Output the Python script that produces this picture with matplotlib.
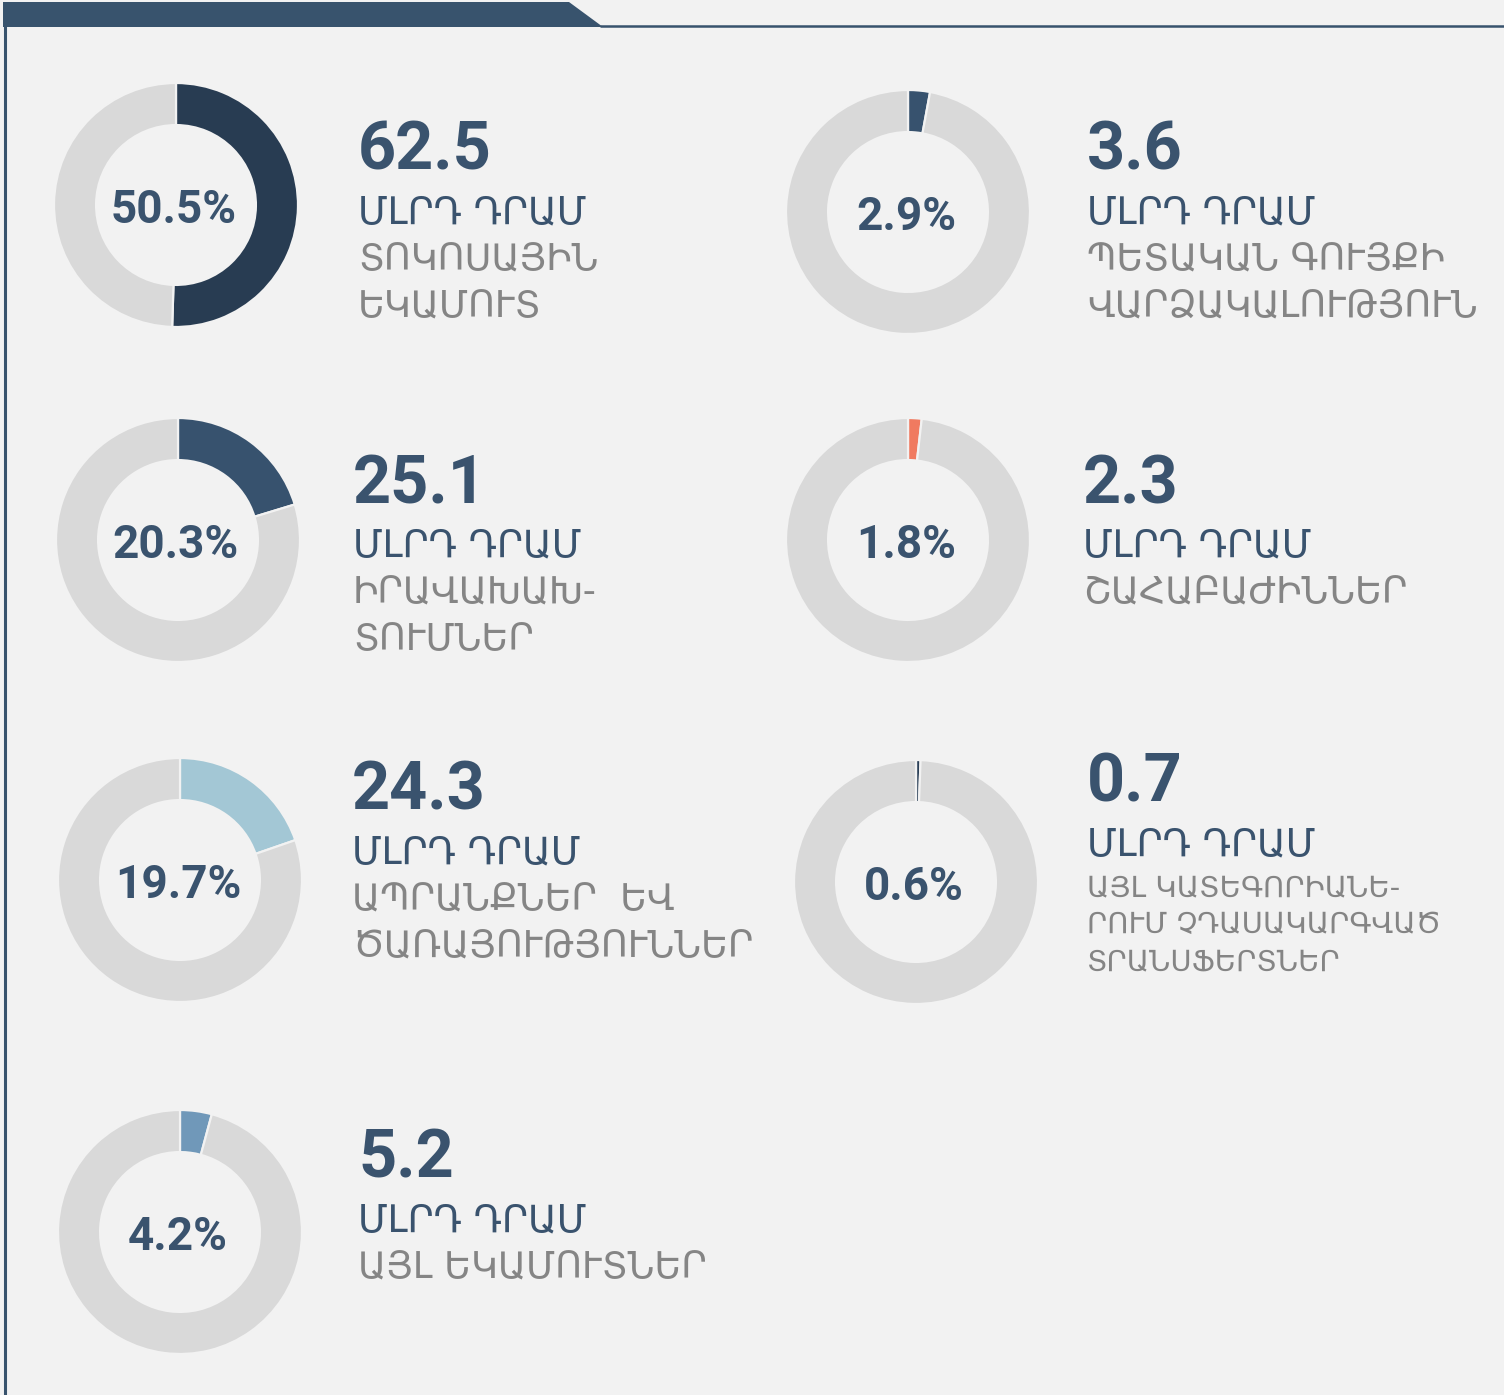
"""Budget revenue structure — donut panel, one ring per category."""
import matplotlib
matplotlib.use("Agg")
import matplotlib.pyplot as plt
from matplotlib.patches import Polygon

W, H = 1504, 1395
BG       = "#f2f2f2"
RING     = "#d9d9d9"
NAVY     = "#37526e"
TXT_BLUE = "#3a536e"
TXT_GRAY = "#858585"

# ── data ──────────────────────────────────────────────────────────────────────

shares  = [50.5, 2.9, 20.3, 1.8, 19.7, 0.6, 4.2]          # % of total
amounts = [62.5, 3.6, 25.1, 2.3, 24.3, 0.7, 5.2]          # bn AMD
unit    = "ՄԼՐԴ ԴՐԱՄ"
labels  = [
    ["ՏՈԿՈՍԱՅԻՆ", "ԵԿԱՄՈՒՏ"],
    ["ՊԵՏԱԿԱՆ ԳՈՒՅՔԻ", "ՎԱՐՁԱԿԱԼՈՒԹՅՈՒՆ"],
    ["ԻՐԱՎԱԽԱԽ-", "ՏՈՒՄՆԵՐ"],
    ["ՇԱՀԱԲԱԺԻՆՆԵՐ"],
    ["ԱՊՐԱՆՔՆԵՐ  ԵՎ", "ԾԱՌԱՅՈՒԹՅՈՒՆՆԵՐ"],
    ["ԱՅԼ ԿԱՏԵԳՈՐԻԱՆԵ-", "ՐՈՒՄ ՉԴԱՍԱԿԱՐԳՎԱԾ", "ՏՐԱՆՍՖԵՐՏՆԵՐ"],
    ["ԱՅԼ ԵԿԱՄՈՒՏՆԵՐ"],
]
colors  = ["#283c52", NAVY, NAVY, "#f07a60", "#a3c7d5", "#2b4058", "#7098b9"]

# ── layout (pixels, top-left origin) ──────────────────────────────────────────

centers = [(176, 205), (908, 212), (178, 540), (908, 540),
           (180, 880), (916, 882), (180, 1232)]
text_x  = [358, 1087, 353, 1083, 352, 1087, 358]
num_y   = [170, 170, 503, 503, 810, 802, 1178]    # baseline of the big number
R_OUT   = 122
HOLE    = 0.655

def fx(x):
    return x / W

def fy(y):
    return 1 - y / H

fig = plt.figure(figsize=(W / 100, H / 100), dpi=100)
fig.patch.set_facecolor(BG)

# frame: header tab, rule line, left border
frame = fig.add_axes([0, 0, 1, 1])
frame.set_xlim(0, W)
frame.set_ylim(H, 0)
frame.axis("off")
frame.add_patch(Polygon([(3, 2), (569, 2), (603, 27), (3, 27)],
                        closed=True, color="#38536d", lw=0))
frame.plot([600, W], [26, 26], color="#38536d", lw=1.8, solid_capstyle="butt")
frame.plot([4.5, 4.5], [26, H], color="#38536d", lw=2.2, solid_capstyle="butt")

# ── donuts + labels ───────────────────────────────────────────────────────────

pad = 1.04
for i, pct in enumerate(shares):
    cx, cy = centers[i]
    size = 2 * R_OUT * pad
    ax = fig.add_axes([fx(cx - size / 2), fy(cy + size / 2), size / W, size / H])
    ax.pie([pct, 100 - pct], colors=[colors[i], RING], startangle=90,
           counterclock=False, radius=1,
           wedgeprops=dict(width=1 - HOLE, edgecolor=BG, linewidth=1.6))
    ax.set_xlim(-pad, pad)
    ax.set_ylim(-pad, pad)
    ax.set_aspect("equal")
    ax.axis("off")

    fig.text(fx(cx - 2), fy(cy + 18), f"{pct}%", ha="center", va="baseline",
             fontsize=33, fontweight="bold", family="Roboto", color=TXT_BLUE)

    tx = text_x[i]
    fig.text(fx(tx), fy(num_y[i]), f"{amounts[i]}", ha="left", va="baseline",
             fontsize=48, fontweight="bold", family="Roboto", color=TXT_BLUE)
    fig.text(fx(tx), fy(num_y[i] + 53), unit, ha="left", va="baseline",
             fontsize=27, family="DejaVu Sans", color=TXT_BLUE)
    small = len(labels[i]) > 2
    step = 37 if small else 47.5
    fsz = 21 if small else 26.5
    y0 = num_y[i] + 53 + (41 if small else 47)
    for j, line in enumerate(labels[i]):
        fig.text(fx(tx), fy(y0 + j * step), line, ha="left", va="baseline",
                 fontsize=fsz, family="DejaVu Sans", color=TXT_GRAY)

fig.savefig("out.png", dpi=100, facecolor=BG)
